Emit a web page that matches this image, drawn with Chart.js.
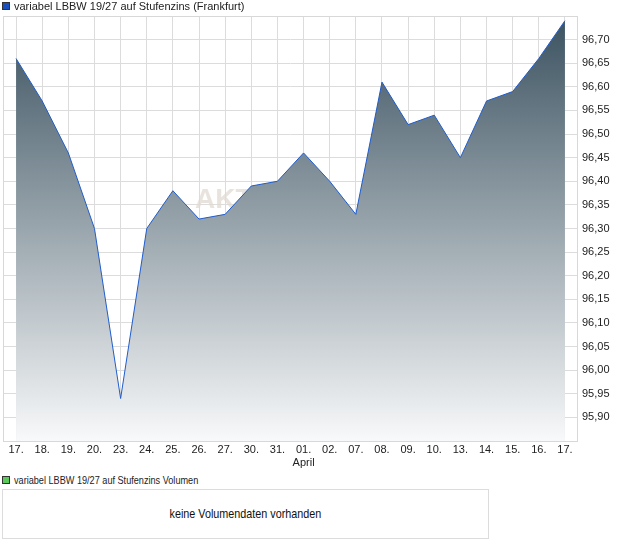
<!DOCTYPE html>
<html>
<head>
<meta charset="utf-8">
<script src="https://cdn.jsdelivr.net/npm/chart.js@4.4.1/dist/chart.umd.min.js"></script>
<style>
  body { margin: 0; background: #fff; font-family: "Liberation Sans", Arial, sans-serif; color: #222; }
  #wrap { position: relative; width: 620px; height: 546px; overflow: hidden; }
  #chartbox { position: absolute; left: 0; top: 0; width: 620px; height: 470px; }
  .legend { position: absolute; left: 2px; font-size: 11px; line-height: 12px; white-space: nowrap; }
  .legend span.sq { display: inline-block; width: 6px; height: 6px; border: 1px solid #333; margin-right: 4px; vertical-align: 0px; }
  .narrow { display: inline-block; transform: scaleX(0.83); transform-origin: left center; }
  #volbox { position: absolute; left: 2px; top: 489px; width: 485px; height: 48px; border: 1px solid #dcdcdc;
            font-size: 13px; text-align: center; line-height: 48px; color: #111; }
  #volbox span { display: inline-block; transform: scaleX(0.83); transform-origin: center center; }
</style>
</head>
<body>
<div id="wrap">
  <div id="chartbox"><canvas id="kurs"></canvas></div>
  <div class="legend" style="top:0px;"><span class="sq" style="background:#1a4fc0;"></span>variabel LBBW 19/27 auf Stufenzins (Frankfurt)</div>
  <div class="legend" style="top:474px;"><span class="sq" style="background:#5cc85c;"></span><span class="narrow">variabel LBBW 19/27 auf Stufenzins Volumen</span></div>
  <div id="volbox"><span>keine Volumendaten vorhanden</span></div>
</div>
<script>
// Handelstage (Maerz/April)
var tage = ['17.','18.','19.','20.','23.','24.','25.','26.','27.','30.','31.','01.','02.','07.','08.','09.','10.','13.','14.','15.','16.','17.'];
var monatIndex = 11;
var monatName = 'April';

// Schlusskurse in %
var kurse = [96.66, 96.57, 96.46, 96.30, 95.94, 96.30, 96.38, 96.32, 96.33, 96.39, 96.40,
             96.46, 96.40, 96.33, 96.61, 96.52, 96.54, 96.45, 96.57, 96.59, 96.66, 96.74];

var yMin = 95.85;
var yMax = 96.75;
var yStep = 0.05;

var labels = tage.map(function(t, i) {
    return i == monatIndex ? [t, monatName] : t;
});

var rahmen = { // Rahmen um den Plotbereich + Wasserzeichen
    id: 'rahmen',
    beforeDatasetsDraw: function(chart) {
        var c = chart.ctx;
        c.save();
        c.fillStyle = 'rgba(226,218,210,0.75)';
        c.font = 'bold 28px "Liberation Sans", Arial, sans-serif';
        c.textBaseline = 'bottom';
        c.fillText('AKTIEN', 195, 214);
        c.restore();
    },
    afterDraw: function(chart) {
        var a = chart.chartArea;
        var c = chart.ctx;
        c.save();
        c.strokeStyle = '#d8d8d8';
        c.lineWidth = 1;
        c.strokeRect(Math.round(a.left) + 0.5, Math.round(a.top) + 0.5, Math.round(a.right - a.left) - 1, Math.round(a.bottom - a.top));
        c.restore();
    }
};

var ctx = document.getElementById('kurs');
var chart = new Chart(ctx, {
    type: 'line',
    data: {
        labels: labels,
        datasets: [{
            label: 'variabel LBBW 19/27 auf Stufenzins (Frankfurt)',
            data: kurse,
            borderColor: '#1f5ccc',
            borderWidth: 1,
            pointRadius: 0,
            tension: 0,
            fill: 'start',
            backgroundColor: function(context) {
                var a = context.chart.chartArea;
                if (!a) return 'rgba(0,0,0,0)';
                var g = context.chart.ctx.createLinearGradient(0, a.top, 0, a.bottom);
                g.addColorStop(0, '#3b5260');
                g.addColorStop(1, '#f8f9fa');
                return g;
            }
        }]
    },
    options: {
        animation: false,
        responsive: true,
        maintainAspectRatio: false,
        layout: { padding: { left: 3, top: 16, right: 0, bottom: 0 } },
        plugins: {
            legend: { display: false },
            tooltip: { enabled: false }
        },
        scales: {
            x: {
                offset: true,
                grid: { color: '#dcdcdc', drawTicks: false, offset: false },
                border: { display: false },
                ticks: {
                    color: '#222',
                    font: { family: '"Liberation Sans", Arial, sans-serif', size: 11 },
                    padding: 2,
                    maxRotation: 0,
                    autoSkip: false
                },
                afterFit: function(scale) { scale.height = 29; }
            },
            y: {
                position: 'right',
                min: yMin,
                max: yMax,
                grid: { color: '#dcdcdc', drawTicks: false },
                border: { display: false },
                ticks: {
                    stepSize: yStep,
                    color: '#222',
                    padding: 4,
                    font: { family: '"Liberation Sans", Arial, sans-serif', size: 11 },
                    callback: function(value) {
                        var v = Number(value);
                        if (v < yMin + 0.025 || v > yMax - 0.025) return '';
                        return v.toFixed(2).replace('.', ',');
                    }
                },
                afterFit: function(scale) { scale.width = 42; }
            }
        }
    },
    plugins: [rahmen]
});
</script>
</body>
</html>
